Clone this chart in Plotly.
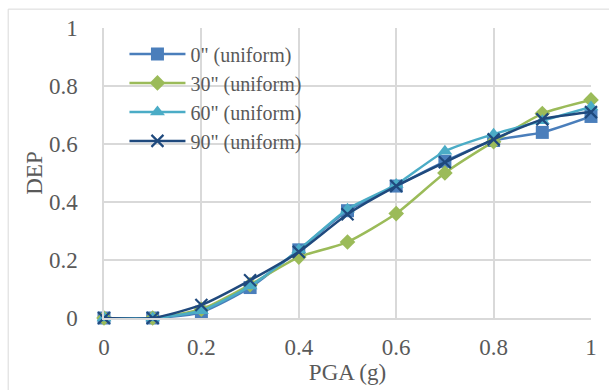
import plotly.graph_objects as go

pga = [0, 0.1, 0.2, 0.3, 0.4, 0.5, 0.6, 0.7, 0.8, 0.9, 1.0]
dep_0 = [0, 0, 0.02, 0.105, 0.235, 0.37, 0.455, 0.54, 0.612, 0.64, 0.695]
dep_30 = [0, 0, 0.03, 0.115, 0.21, 0.262, 0.36, 0.50, 0.608, 0.705, 0.752]
dep_60 = [0, 0, 0.025, 0.11, 0.235, 0.375, 0.46, 0.575, 0.634, 0.68, 0.728]
dep_90 = [0, 0, 0.045, 0.13, 0.228, 0.358, 0.455, 0.537, 0.616, 0.685, 0.71]

names = ['0" (uniform)', '30" (uniform)', '60" (uniform)', '90" (uniform)']
colors = ["#4A7EBB", "#9BBB59", "#4BACC6", "#1F497D"]
symbols = ["square", "diamond", "triangle-up", "x-thin"]
sizes = [13, 12, 13, 12]
series = [dep_0, dep_30, dep_60, dep_90]

FONT = "Liberation Serif"
TXT = "#595959"

fig = go.Figure()
for i, (nm, ys) in enumerate(zip(names, series)):
    marker = dict(symbol=symbols[i], size=sizes[i], color=colors[i])
    if symbols[i] == "x-thin":
        marker["line"] = dict(color=colors[i], width=2.2)
    fig.add_trace(go.Scatter(
        x=pga, y=ys, name=nm, mode="lines+markers", cliponaxis=False,
        line=dict(color=colors[i], width=2.5, shape="spline", smoothing=0.6),
        marker=marker,
    ))

fig.update_layout(
    width=609, height=390,
    margin=dict(l=104, r=17, t=28, b=70),
    paper_bgcolor="white", plot_bgcolor="white",
    font=dict(family=FONT, size=22, color=TXT),
    showlegend=True,
    legend=dict(x=0.042, y=0.978, xanchor="left", yanchor="top",
                bgcolor="rgba(255,255,255,0)", itemwidth=56,
                font=dict(family=FONT, size=20, color=TXT),
                traceorder="normal"),
    xaxis=dict(range=[0, 1], tickvals=[0, 0.2, 0.4, 0.6, 0.8, 1],
               ticktext=["0", "0.2", "0.4", "0.6", "0.8", "1"],
               tickfont=dict(family=FONT, size=23, color=TXT),
               showgrid=True, gridcolor="#D9D9D9", gridwidth=1.5,
               zeroline=False, showline=True, linecolor="#D9D9D9", linewidth=1.5,
               mirror=False, ticks="", ticklabelstandoff=8,
               title=dict(text="PGA (g)", font=dict(family=FONT, size=23, color=TXT), standoff=2)),
    yaxis=dict(range=[0, 1], tickvals=[0, 0.2, 0.4, 0.6, 0.8, 1],
               ticktext=["0", "0.2", "0.4", "0.6", "0.8", "1"],
               tickfont=dict(family=FONT, size=23, color=TXT),
               showgrid=True, gridcolor="#D9D9D9", gridwidth=1.5,
               zeroline=False, showline=True, linecolor="#D9D9D9", linewidth=1.5,
               ticks="", ticklabelstandoff=20,
               title=dict(text="DEP", font=dict(family=FONT, size=23, color=TXT), standoff=0)),
)

fig.add_shape(type="rect", xref="paper", yref="paper",
              x0=(8 - 104) / 488, x1=1.2, y0=-0.4, y1=(320 - 9) / 292,
              line=dict(color="#D9D9D9", width=1), layer="below")

fig.write_html("out.html", config={"displayModeBar": False},
               post_script="document.body.style.margin='0';document.body.style.overflow='hidden';")
